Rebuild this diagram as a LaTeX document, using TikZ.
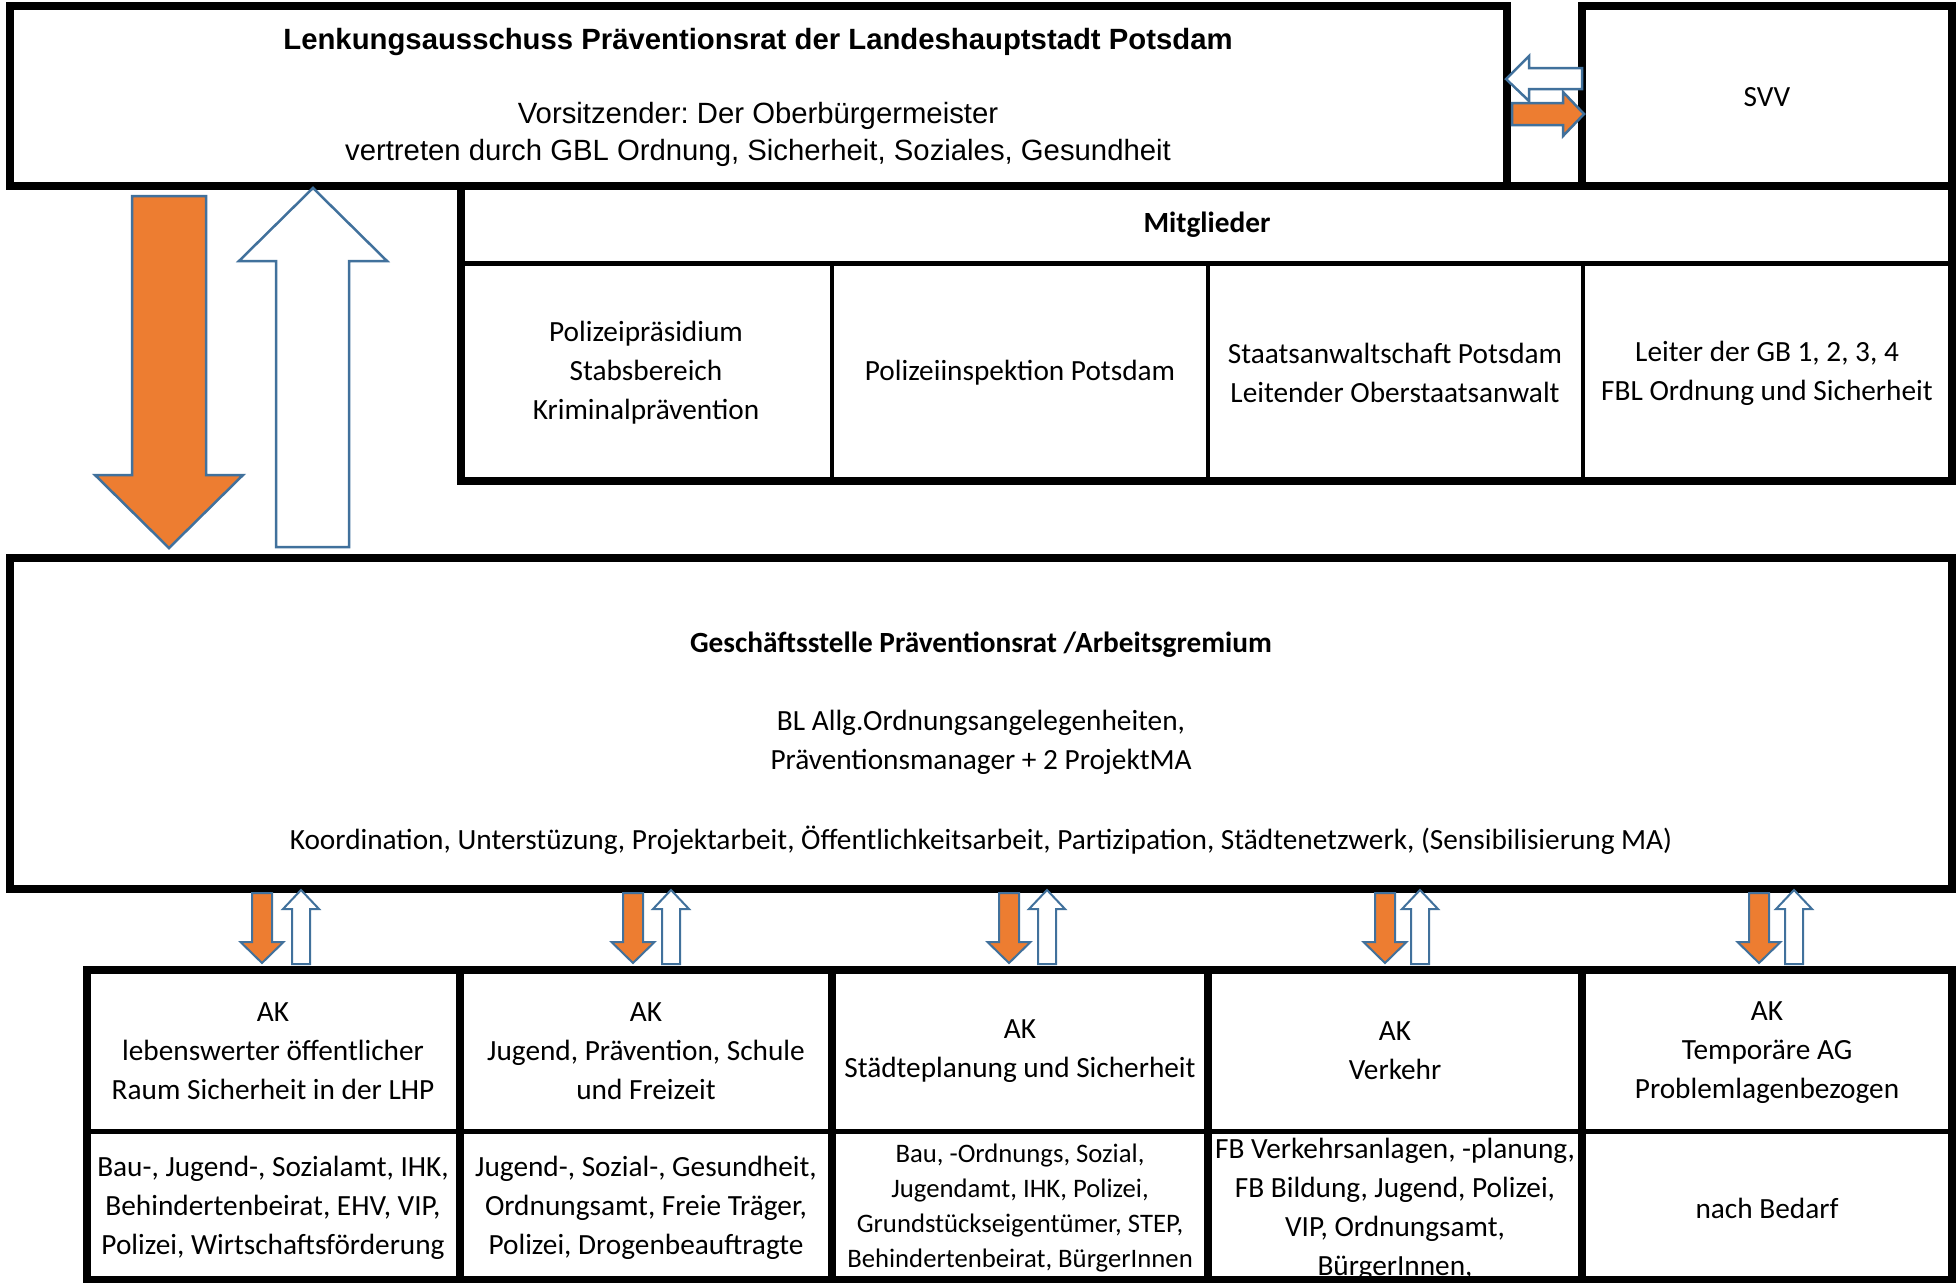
\documentclass[tikz,border=0pt]{standalone}
\usepackage{fontspec}
\setmainfont{Carlito}
\newfontfamily\arialfont{Liberation Sans}
\definecolor{orangeA}{HTML}{ED7D31}
\definecolor{blueA}{HTML}{41719C}
\frenchspacing
\begin{document}
\begin{tikzpicture}[x=1pt,y=-1pt,
  frame/.style={draw=black,line width=8pt,line join=miter},
  midline/.style={draw=black,line width=5pt},
  colline/.style={draw=black,line width=4pt},
  akcol/.style={draw=black,line width=8pt},
  bigO/.style={fill=orangeA,draw=blueA,line width=2.5pt,line join=miter},
  bigW/.style={fill=white,draw=blueA,line width=2.5pt,line join=miter},
  smO/.style={fill=orangeA,draw=blueA,line width=2pt,line join=miter},
  smW/.style={fill=white,draw=blueA,line width=2pt,line join=miter},
  txt/.style={inner sep=0pt,align=center,font=\fontsize{29.3}{39}\selectfont},
  txtb/.style={inner sep=0pt,align=center,font=\fontsize{29.3}{39}\selectfont\bfseries},
  txts/.style={inner sep=0pt,align=center,font=\fontsize{26.7}{35}\selectfont},
  atxt/.style={inner sep=0pt,align=center,font=\arialfont\fontsize{29.3}{37}\selectfont},
  atxtb/.style={inner sep=0pt,align=center,font=\arialfont\fontsize{29.3}{37}\selectfont\bfseries}
]
\useasboundingbox (0,0) rectangle (1956,1282);
\fill[white] (0,0) rectangle (1956,1282);

% ---- top box and SVV
\draw[frame] (10,6) rectangle (1507,186);
\draw[frame] (1582,6) rectangle (1952,186);
\node[atxtb] (lenk) at (758,42) {Lenkungsausschuss Präventionsrat der Landeshauptstadt Potsdam};
\node[atxt] (vors) at (758,134) {Vorsitzender: Der Oberbürgermeister\\vertreten durch GBL Ordnung, Sicherheit, Soziales, Gesundheit};
\node[txt] (svv) at (1767,97) {SVV};

% ---- Mitglieder table
\draw[frame] (461,186) rectangle (1952,481);
\draw[midline] (461,263) -- (1952,263);
\draw[colline] (832,263) -- (832,481);
\draw[colline] (1208,263) -- (1208,481);
\draw[colline] (1583,263) -- (1583,481);
\node[txtb] (mitg) at (1207,225) {Mitglieder};
\node[txt] (m1) at (646,373) {Polizeipräsidium\\Stabsbereich\\Kriminalprävention};
\node[txt] (m2) at (1020,373) {Polizeiinspektion Potsdam};
\node[txt] (m3) at (1395,373) {Staatsanwaltschaft Potsdam\\Leitender Oberstaatsanwalt};
\node[txt] (m4) at (1767,373) {Leiter der GB 1, 2, 3, 4\\FBL Ordnung und Sicherheit};

% ---- Geschaeftsstelle
\draw[frame] (10,558) rectangle (1952,889);
\node[txtb] (gs) at (981,645) {Geschäftsstelle Präventionsrat /Arbeitsgremium};
\node[txt] (gsbl) at (981,742) {BL Allg.Ordnungsangelegenheiten,\\Präventionsmanager + 2 ProjektMA};
\node[txt] (gsko) at (981,840) {Koordination, Unterstüzung, Projektarbeit, Öffentlichkeitsarbeit, Partizipation, Städtenetzwerk, (Sensibilisierung MA)};

% ---- AK table
\draw[frame] (87,970) rectangle (1952,1280);
\draw[midline] (87,1131) -- (1952,1131);
\foreach \cx in {460,832,1208,1582} \draw[akcol] (\cx,970) -- (\cx,1282);
\node[txt] (a1) at (273,1051) {AK\\lebenswerter öffentlicher\\Raum Sicherheit in der LHP};
\node[txt] (a2) at (646,1051) {AK\\Jugend, Prävention, Schule\\und Freizeit};
\node[txt] (a3) at (1020,1051) {AK\\Städteplanung und Sicherheit};
\node[txt] (a4) at (1395,1051) {AK\\Verkehr};
\node[txt] (a5) at (1767,1053) {AK\\Temporäre AG\\Problemlagenbezogen};
\node[txt] (b1) at (273,1208) {Bau-, Jugend-, Sozialamt, IHK,\\Behindertenbeirat, EHV, VIP,\\Polizei, Wirtschaftsförderung};
\node[txt] (b2) at (646,1208) {Jugend-, Sozial-, Gesundheit,\\Ordnungsamt, Freie Träger,\\Polizei, Drogenbeauftragte};
\node[txts] (b3) at (1020,1208) {Bau, -Ordnungs, Sozial,\\Jugendamt, IHK, Polizei,\\Grundstückseigentümer, STEP,\\Behindertenbeirat, BürgerInnen};
\node[txt] (b4) at (1395,1209) {FB Verkehrsanlagen, -planung,\\FB Bildung, Jugend, Polizei,\\VIP, Ordnungsamt,\\BürgerInnen,};
\node[txt] (b5) at (1767,1208) {nach Bedarf};

% ---- big arrows
\filldraw[bigO] (132,196) -- (206,196) -- (206,475) -- (243,475) -- (169,548) -- (95,475) -- (132,475) -- cycle;
\filldraw[bigW] (276,547) -- (349,547) -- (349,261) -- (387,261) -- (313,188) -- (239,261) -- (276,261) -- cycle;

% ---- SVV arrows
\filldraw[bigW] (1582,68) -- (1529,68) -- (1529,56) -- (1506,79) -- (1529,101) -- (1529,89) -- (1582,89) -- cycle;
\filldraw[bigO] (1512,103) -- (1563,103) -- (1563,92) -- (1584,114) -- (1563,136) -- (1563,125) -- (1512,125) -- cycle;

% ---- small arrow pairs
\foreach \o/\w in {262/301, 633/671, 1009/1047, 1385/1420, 1759/1794} {
  \filldraw[smO] (\o-10,893) -- (\o+10,893) -- (\o+10,942) -- (\o+21.5,942) -- (\o,963) -- (\o-21.5,942) -- (\o-10,942) -- cycle;
  \filldraw[smW] (\w-9,964) -- (\w+9,964) -- (\w+9,909) -- (\w+18,909) -- (\w,890) -- (\w-18,909) -- (\w-9,909) -- cycle;
}
\end{tikzpicture}
\end{document}
